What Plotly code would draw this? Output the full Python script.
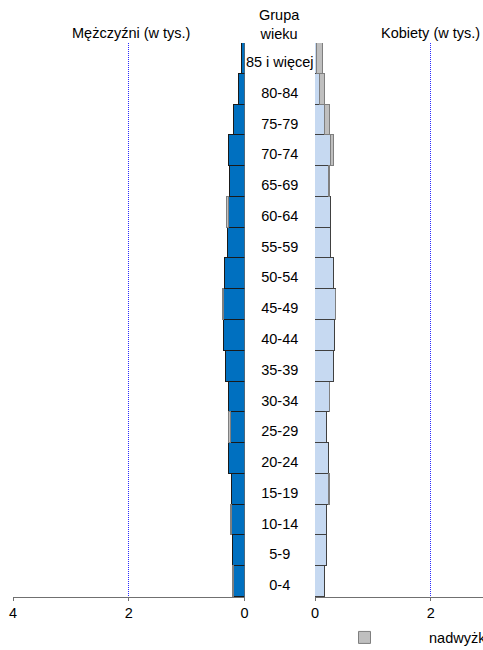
import plotly.graph_objects as go

## dane: grupy wieku od dołu do góry, wartości w tys.
grupy = ["0-4", "5-9", "10-14", "15-19", "20-24", "25-29", "30-34", "35-39", "40-44",
         "45-49", "50-54", "55-59", "60-64", "65-69", "70-74", "75-79", "80-84", "85 i więcej"]
mezczyzni = [0.18, 0.20, 0.22, 0.22, 0.26, 0.23, 0.26, 0.32, 0.35, 0.36, 0.33, 0.28, 0.26, 0.25, 0.27, 0.18, 0.09, 0.04]
nadwyzka_m = [0.02, None, 0.005, None, None, 0.03, None, None, None, 0.005, None, None, 0.04, None, None, None, None, None]
kobiety = [0.18, 0.20, 0.20, 0.24, 0.25, 0.20, 0.26, 0.32, 0.35, 0.36, 0.33, 0.28, 0.27, 0.25, 0.27, 0.17, 0.09, 0.04]
nadwyzka_k = [None, None, None, 0.015, None, None, 0.005, None, None, 0.005, None, None, None, 0.005, 0.06, 0.09, 0.08, 0.09]

W, H = 483, 650
FONT = "Liberation Sans, Arial, sans-serif"
FS = 14.5
NIEBIESKI = "#0070c0"
JASNY = "#c6d9f1"
SZARY = "#bfbfbf"

fig = go.Figure()

# lewa strona - mężczyźni
fig.add_trace(go.Bar(x=mezczyzni, y=grupy, orientation="h", xaxis="x", yaxis="y",
                     marker=dict(color=NIEBIESKI, line=dict(color="#1a1a1a", width=1)),
                     showlegend=False, hoverinfo="x+y"))
fig.add_trace(go.Bar(x=nadwyzka_m, y=grupy, orientation="h", xaxis="x", yaxis="y",
                     marker=dict(color=SZARY, line=dict(color="#7f7f7f", width=1)),
                     showlegend=False, hoverinfo="x+y"))

# prawa strona - kobiety
fig.add_trace(go.Bar(x=kobiety, y=grupy, orientation="h", xaxis="x2", yaxis="y",
                     marker=dict(color=JASNY, line=dict(color="#404040", width=1)),
                     showlegend=False, hoverinfo="x+y"))
fig.add_trace(go.Bar(x=nadwyzka_k, y=grupy, orientation="h", xaxis="x2", yaxis="y",
                     name="nadwyżka",
                     marker=dict(color=SZARY, line=dict(color="#7f7f7f", width=1)),
                     showlegend=True, hoverinfo="x+y"))

# środek - etykiety grup wieku (osobna oś y, lekko przesunięta w dół)
fig.add_trace(go.Scatter(x=[0] * len(grupy), y=grupy, mode="text", text=grupy,
                         xaxis="x3", yaxis="y2", showlegend=False, hoverinfo="skip",
                         textfont=dict(family=FONT, size=FS, color="black")))

x0_l, x4_l = 244.5, 13
x0_r = 315
px_na_jedn = (x0_l - x4_l) / 4
wys = H - 43 - 53
przes = 5 / (wys / len(grupy))

os_x = dict(showline=True, linecolor="#707070", linewidth=1,
            ticks="outside", ticklen=3, tickcolor="#707070",
            tickvals=[0, 2, 4], showgrid=True, gridcolor="#2a2aff", griddash="1px,1px",
            gridwidth=1, zeroline=False, fixedrange=True,
            tickfont=dict(family=FONT, size=FS, color="black"))
os_y = dict(type="category", categoryorder="array", categoryarray=grupy,
            showticklabels=False, showgrid=False,
            showline=False, zeroline=False, ticks="", fixedrange=True)

fig.update_layout(
    width=W, height=H,
    margin=dict(l=0, r=0, t=43, b=53, autoexpand=False),
    paper_bgcolor="white", plot_bgcolor="white",
    barmode="stack", bargap=0,
    font=dict(family=FONT, size=FS, color="black"),
    xaxis=dict(os_x, domain=[x4_l / W, x0_l / W], range=[4, 0], anchor="y"),
    xaxis2=dict(os_x, domain=[x0_r / W, 1], range=[0, (W - x0_r) / px_na_jedn], anchor="y"),
    xaxis3=dict(domain=[x0_l / W, x0_r / W], range=[-1, 1], visible=False, anchor="y2"),
    yaxis=dict(os_y, range=[-0.5, len(grupy) - 0.5]),
    yaxis2=dict(os_y, range=[-0.5 + przes, len(grupy) - 0.5 + przes], overlaying="y"),
    legend=dict(orientation="h", x=300 / W, xanchor="left", y=-0.0352 - 5 / wys, yanchor="top",
                itemwidth=119, font=dict(family=FONT, size=FS, color="black"),
                bgcolor="rgba(0,0,0,0)"),
    showlegend=True,
)

def py(p):
    return (H - 53 - p) / wys

fig.add_annotation(text="Mężczyźni (w tys.)", x=131 / W, y=py(33), xref="paper", yref="paper",
                   showarrow=False, xanchor="center", yanchor="middle", font=dict(size=FS))
fig.add_annotation(text="Kobiety (w tys.)", x=430 / W, y=py(33), xref="paper", yref="paper",
                   showarrow=False, xanchor="center", yanchor="middle", font=dict(size=FS))
fig.add_annotation(text="Grupa<br>wieku", x=279.5 / W, y=py(24.5), xref="paper", yref="paper",
                   showarrow=False, xanchor="center", yanchor="middle", font=dict(size=FS))

# bez domyślnego marginesu strony i bez paska narzędzi
fig.write_html("out.html", config={"displayModeBar": False},
               post_script="document.body.style.margin='0';")
